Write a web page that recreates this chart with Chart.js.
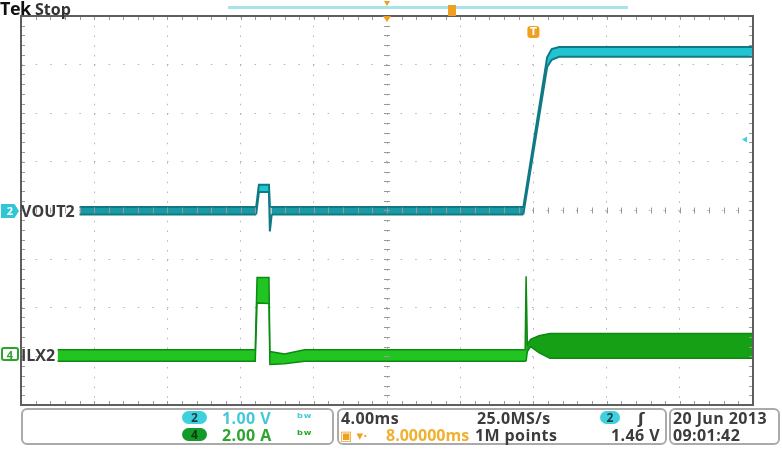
<!DOCTYPE html>
<html>
<head>
<meta charset="utf-8">
<script src="https://cdn.jsdelivr.net/npm/chart.js@4.4.1/dist/chart.umd.min.js"></script>
<style>
  body { margin: 0; background: #fff; }
  #scope { position: relative; width: 782px; height: 464px; overflow: hidden; font-family: "Open Sans", "DejaVu Sans", sans-serif; }
  #scope canvas { position: absolute; left: 0; top: 0; }
  .t { position: absolute; font-weight: bold; font-size: 16px; line-height: 16px; letter-spacing: 0.4px; color: #3c3c3c; white-space: nowrap; }
  .box { position: absolute; border: 2px solid #aaa; border-radius: 6px; box-sizing: border-box; top: 408px; height: 37px; }
  .pill { position: absolute; width: 25px; height: 13px; border-radius: 7px; font-size: 12px; line-height: 13px; text-align: center; font-weight: bold; }
  .tag { position: absolute; width: 18px; height: 14px; font-size: 11px; line-height: 14px; font-weight: bold; text-align: center; box-sizing: border-box; }
</style>
</head>
<body>
<div id="scope">
  <canvas id="scopeChart" width="782" height="464"></canvas>

  <!-- header -->
  <div class="t" style="left:0; top:0; font-size:18px; letter-spacing:-0.5px; color:#111;">Tek</div>
  <div class="t" style="left:35px; top:1px; font-size:16px; letter-spacing:0; color:#333;">Stop</div>

  <!-- channel labels -->
  <div class="tag" style="left:1px; top:204px; background:#2fc6d6; color:#fff; clip-path:polygon(0 0,75% 0,100% 50%,75% 100%,0 100%);">2</div>
  <div class="t" style="left:21px; top:203px; letter-spacing:0;">VOUT2</div>
  <div class="tag" style="left:1px; top:347px; border:2px solid #2aa52a; color:#2aa52a; border-radius:3px; line-height:11px;">4</div>
  <div class="t" style="left:21px; top:347px; letter-spacing:0;">ILX2</div>

  <!-- status bar -->
  <div class="box" style="left:21px; width:313px;"></div>
  <div class="box" style="left:337px; width:330px;"></div>
  <div class="box" style="left:669px; width:111px;"></div>

  <div class="pill" style="left:182px; top:411px; background:#3fd0de; color:#1d3d44;">2</div>
  <div class="t" style="left:222px; top:410px; color:#45c9d8;">1.00 V</div>
  <div class="t" style="left:297px; top:409px; font-size:13px; color:#45c9d8;">ᵇʷ</div>
  <div class="pill" style="left:182px; top:428px; background:#139a2a; color:#0b3b0b;">4</div>
  <div class="t" style="left:222px; top:427px; color:#2ea52e;">2.00 A</div>
  <div class="t" style="left:297px; top:426px; font-size:13px; color:#2ea52e;">ᵇʷ</div>

  <div class="t" style="left:341px; top:410px;">4.00ms</div>
  <div class="t" style="left:477px; top:410px;">25.0MS/s</div>
  <div class="pill" style="left:600px; top:411px; width:20px; background:#3fd0de; color:#1d3d44;">2</div>
  <div class="t" style="left:638px; top:410px;">ʃ</div>
  <div class="t" style="left:340px; top:427px; color:#f0a020; font-size:13px;">▣ ▾·</div>
  <div class="t" style="left:386px; top:427px; color:#f0b030; letter-spacing:0;">8.00000ms</div>
  <div class="t" style="left:475px; top:427px;">1M points</div>
  <div class="t" style="left:611px; top:427px;">1.46 V</div>

  <div class="t" style="left:673px; top:410px;">20 Jun 2013</div>
  <div class="t" style="left:673px; top:427px;">09:01:42</div>
</div>

<script>
// ------------------------------------------------------------
// Captura del osciloscopio: VOUT2 (canal 2) e ILX2 (canal 4)
// tiempo en ms respecto al disparo, 4 ms/div
// ------------------------------------------------------------

// VOUT2, 1 V/div: borde superior e inferior de la banda de ruido
const voutTime = [-24.8, -15.15, -15.0, -14.45, -14.4, -14.3, -0.55, 0.75, 1.0, 1.4, 12];
const voutHigh = [0.07, 0.07, 0.53, 0.53, 0.07, 0.07, 0.07, 3.15, 3.32, 3.36, 3.36];
const voutLow  = [-0.08, -0.08, 0.38, 0.38, -0.43, -0.08, -0.08, 2.95, 3.1, 3.16, 3.16];

// ILX2, 2 A/div
const ilxTime = [-26.0, -15.2, -15.1, -14.45, -14.4, -13.6, -12.5, -0.45, -0.4, -0.33, -0.15, 0.3, 0.9, 12];
const ilxHigh = [0.27, 0.27, 3.24, 3.24, 0.2, 0.1, 0.27, 0.27, 3.3, 0.5, 0.7, 0.85, 0.94, 0.94];
const ilxLow  = [-0.2, -0.2, 2.2, 2.17, -0.33, -0.3, -0.2, -0.2, -0.2, 0.2, 0.4, 0.15, -0.08, -0.08];

// ejes: 10 div horizontales, 8 verticales
const timeRange = [-28, 12];
const voltRange = [-4, 4];
const ampRange = [-2, 14];
const triggerLevel = 1.46;

function pts(xs, ys) {
    return xs.map((x, i) => ({ x: x, y: ys[i] }));
}

// marco, marcas de subdivision y marcadores del disparo
const scopeDecor = {
    id: "scopeDecor",
    afterDatasetsDraw(chart) {
        const ctx = chart.ctx;
        const a = chart.chartArea;
        const xs = chart.scales.x;
        const ys = chart.scales.yV;
        const cx = xs.getPixelForValue(-8);
        const cy = ys.getPixelForValue(0);

        ctx.save();
        ctx.strokeStyle = "#999";
        ctx.lineWidth = 1;
        ctx.beginPath();
        for (let v = timeRange[0]; v <= timeRange[1] + 0.001; v += 0.8) {
            const px = Math.round(xs.getPixelForValue(v)) + 0.5;
            ctx.moveTo(px, a.top); ctx.lineTo(px, a.top + 4);
            ctx.moveTo(px, a.bottom); ctx.lineTo(px, a.bottom - 4);
            ctx.moveTo(px, cy - 3); ctx.lineTo(px, cy + 3);
        }
        for (let v = voltRange[0]; v <= voltRange[1] + 0.001; v += 0.2) {
            const py = Math.round(ys.getPixelForValue(v)) + 0.5;
            ctx.moveTo(a.left, py); ctx.lineTo(a.left + 4, py);
            ctx.moveTo(a.right, py); ctx.lineTo(a.right - 4, py);
            ctx.moveTo(cx - 3, py); ctx.lineTo(cx + 3, py);
        }
        ctx.stroke();

        ctx.strokeStyle = "#5e5e5e";
        ctx.lineWidth = 2;
        ctx.strokeRect(a.left, a.top, a.right - a.left, a.bottom - a.top);

        // barra de registro arriba
        ctx.fillStyle = "#a8e3ea";
        ctx.fillRect(228, 6, 400, 3);
        ctx.fillStyle = "#f0a020";
        ctx.beginPath();
        ctx.moveTo(cx - 3, 1); ctx.lineTo(cx + 3, 1); ctx.lineTo(cx, 6);
        ctx.fill();
        ctx.fillRect(448, 5, 8, 11);
        ctx.beginPath();
        ctx.moveTo(cx - 4, a.top); ctx.lineTo(cx + 4, a.top); ctx.lineTo(cx, a.top + 6);
        ctx.fill();

        // disparo (T)
        const tx = xs.getPixelForValue(0);
        ctx.fillStyle = "#f0a020";
        ctx.beginPath();
        ctx.roundRect(tx - 6, 26, 12, 12, 3);
        ctx.fill();
        ctx.fillStyle = "#fff";
        ctx.font = "bold 10px 'DejaVu Sans'";
        ctx.textAlign = "center";
        ctx.textBaseline = "middle";
        ctx.fillText("T", tx, 32.5);

        // nivel de disparo
        const ly = ys.getPixelForValue(triggerLevel);
        ctx.fillStyle = "#3fd0de";
        ctx.beginPath();
        ctx.moveTo(a.right - 11, ly); ctx.lineTo(a.right - 6, ly - 3); ctx.lineTo(a.right - 6, ly + 3);
        ctx.fill();
        ctx.restore();
    }
};

// banda estrecha en reposo: mas oscura (ruido denso)
const nearZero = c => Math.abs(c.p0.parsed.y) < 0.2 && Math.abs(c.p1.parsed.y) < 0.2;

const ctx = document.getElementById("scopeChart").getContext("2d");

new Chart(ctx, {
    type: "line",
    data: {
        datasets: [
            {
                label: "VOUT2 max",
                data: pts(voutTime, voutHigh),
                yAxisID: "yV",
                borderColor: "#0f7a85",
                borderWidth: 2,
                pointRadius: 0,
                fill: false
            },
            {
                label: "VOUT2 min",
                data: pts(voutTime, voutLow),
                yAxisID: "yV",
                borderColor: "#0f7a85",
                borderWidth: 2,
                pointRadius: 0,
                backgroundColor: "#22c4d1",
                segment: { backgroundColor: c => nearZero(c) ? "#1a9aa5" : undefined },
                fill: "-1"
            },
            {
                label: "ILX2 max",
                data: pts(ilxTime, ilxHigh),
                yAxisID: "yA",
                borderColor: "#0d8a12",
                borderWidth: 1.5,
                pointRadius: 0,
                fill: false
            },
            {
                label: "ILX2 min",
                data: pts(ilxTime, ilxLow),
                yAxisID: "yA",
                borderColor: "#0d8a12",
                borderWidth: 1.5,
                pointRadius: 0,
                backgroundColor: "#22c422",
                segment: { backgroundColor: c => c.p0.parsed.x >= -0.4 ? "#15a015" : undefined },
                fill: "-1"
            }
        ]
    },
    options: {
        responsive: false,
        animation: false,
        layout: { padding: { left: 21, right: 29, top: 16, bottom: 59 } },
        elements: { line: { tension: 0 } },
        scales: {
            x: {
                type: "linear",
                min: timeRange[0],
                max: timeRange[1],
                ticks: { display: false, stepSize: 4 },
                grid: { color: "#b4b4b4", drawTicks: false },
                border: { display: false, dash: [1.5, 8.25] }
            },
            yV: {
                position: "left",
                min: voltRange[0],
                max: voltRange[1],
                ticks: { display: false, stepSize: 1 },
                grid: { color: "#b4b4b4", drawTicks: false },
                border: { display: false, dash: [1.5, 13.1] }
            },
            yA: {
                position: "right",
                min: ampRange[0],
                max: ampRange[1],
                display: false
            }
        },
        plugins: {
            legend: { display: false },
            tooltip: { enabled: false }
        }
    },
    plugins: [scopeDecor]
});
</script>
</body>
</html>
